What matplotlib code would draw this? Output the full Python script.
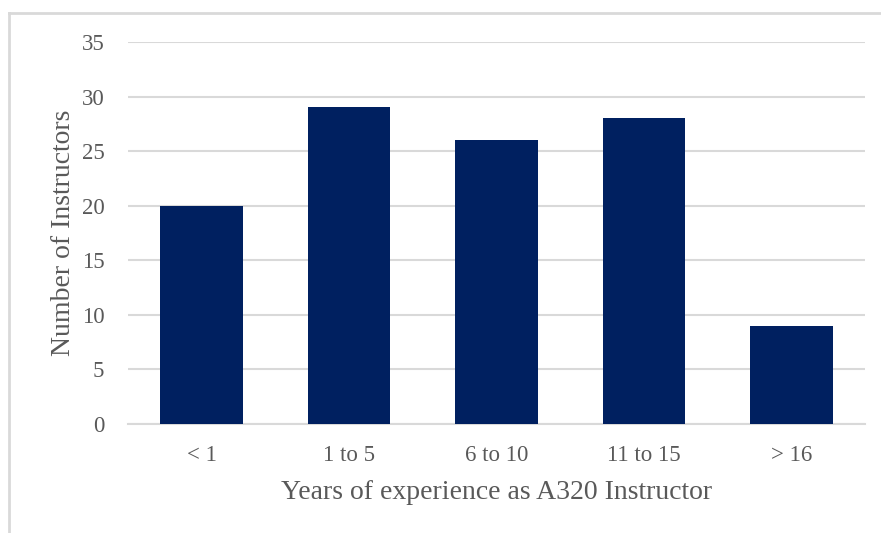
import matplotlib.pyplot as plt
from matplotlib.lines import Line2D

categories = ['< 1', '1 to 5', '6 to 10', '11 to 15', '> 16']
instructors = [20, 29, 26, 28, 9]
y_ticks = [0, 5, 10, 15, 20, 25, 30, 35]

plt.rcParams['font.family'] = ['Liberation Serif', 'DejaVu Serif']

fig = plt.figure(figsize=(8.81, 5.33), dpi=100)
ax = fig.add_axes([128 / 881, 1 - 424 / 533, 737 / 881, 382 / 533])

x = range(len(categories))
ax.bar(x, instructors, width=0.56, color='#002060', zorder=3)

ax.set_xlim(-0.5, len(categories) - 0.5)
ax.set_ylim(0, 35)
ax.set_yticks(y_ticks)
ax.set_xticks(list(x))
ax.set_xticklabels(categories)
ax.yaxis.grid(True, color='#d9d9d9', linewidth=1.5, zorder=0)
for side in ['top', 'right', 'left']:
    ax.spines[side].set_visible(False)
ax.spines['bottom'].set_color('#d9d9d9')
ax.spines['bottom'].set_linewidth(1.5)
ax.tick_params(axis='both', length=0, labelsize=16.5, colors='#595959')
ax.tick_params(axis='y', pad=17)
ax.tick_params(axis='x', pad=15)

ax.set_xlabel('Years of experience as A320 Instructor', fontsize=20, color='#595959', labelpad=10)
ax.set_ylabel('Number of Instructors', fontsize=20, color='#595959', labelpad=4)

# frame lines along top and left edge
fig.add_artist(Line2D([9 / 881, 1], [1 - 13 / 533, 1 - 13 / 533], color='#d9d9d9', linewidth=2))
fig.add_artist(Line2D([9 / 881, 9 / 881], [0, 1 - 13 / 533], color='#d9d9d9', linewidth=2))

fig.savefig('out.png', dpi=100, facecolor='white')
